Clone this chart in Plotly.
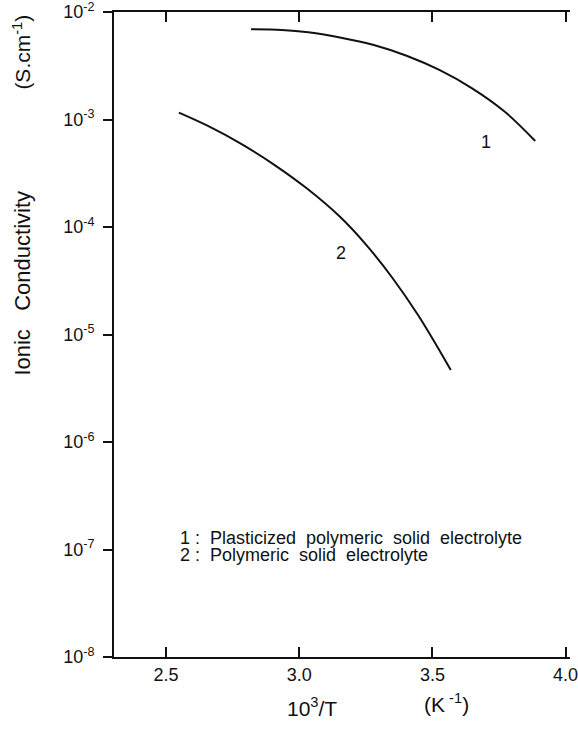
import plotly.graph_objects as go

# ---- data ----
x_curve1 = [2.819, 2.935, 3.034, 3.157, 3.280, 3.403, 3.526, 3.649, 3.772, 3.886]
y_curve1 = [6.90e-3, 6.80e-3, 6.47e-3, 5.77e-3, 4.93e-3, 3.92e-3, 2.89e-3, 1.95e-3, 1.18e-3, 6.31e-4]

x_curve2 = [2.548, 2.659, 2.782, 2.905, 3.028, 3.151, 3.249, 3.348, 3.446, 3.532, 3.569]
y_curve2 = [1.157e-3, 8.66e-4, 5.93e-4, 3.81e-4, 2.29e-4, 1.257e-4, 6.93e-5, 3.41e-5, 1.518e-5, 6.74e-6, 4.67e-6]

x_ticks = [2.5, 3.0, 3.5, 4.0]
x_ticktext = ["2.5", "3.0", "3.5", "4.0"]
y_exponents = [-2, -3, -4, -5, -6, -7, -8]

curve_labels = ["1", "2"]
legend_lines = ["1 :  Plasticized  polymeric  solid  electrolyte",
                "2 :  Polymeric  solid  electrolyte"]

FONT = "Liberation Sans, Arial, sans-serif"
INK = "#111111"

# layout geometry (pixels)
W, H = 578, 729
L, R, T, B = 114, 0, 12, 72
PW, PH = W - L - R, H - T - B


def px(xp):
    return (xp - L) / PW


def py(yp):
    return (H - B - yp) / PH


fig = go.Figure()
for xs, ys in [(x_curve1, y_curve1), (x_curve2, y_curve2)]:
    fig.add_trace(go.Scatter(x=xs, y=ys, mode="lines",
                             line=dict(color=INK, width=2, shape="spline", smoothing=1.0),
                             showlegend=False, hoverinfo="skip"))


def ann(x, y, text, size, ref="paper", angle=0, xanchor="center"):
    return dict(x=x, y=y, xref=ref if ref == "paper" else "x", yref=ref if ref == "paper" else "y",
                text=text, textangle=angle, showarrow=False,
                xanchor=xanchor, yanchor="middle",
                font=dict(size=size, color=INK, family=FONT))


annotations = []
# curve labels
annotations.append(ann(3.700, -3.206, curve_labels[0], 18, ref="data"))
annotations.append(ann(3.157, -4.239, curve_labels[1], 18, ref="data"))
# legend text
for txt, yp in zip(legend_lines, [538, 555]):
    annotations.append(ann(px(179), py(yp), txt, 18, xanchor="left"))
# axis titles
annotations.append(ann(px(315), py(707), "10<sup>3</sup>/T", 21))
annotations.append(ann(px(452), py(703), "(K<sup> -1</sup>)", 21))
annotations.append(ann(px(20), py(283), "Ionic   Conductivity", 22, angle=-90))
annotations.append(ann(px(20), py(52), "(S.cm<sup>-1</sup>)", 21, angle=-90))

x0 = 2.5 + (L - 167) / 271.0
x1 = x0 + PW / 271.0

fig.update_layout(
    width=W, height=H,
    margin=dict(l=L, r=R, t=T, b=B, pad=0),
    paper_bgcolor="white", plot_bgcolor="white",
    font=dict(family=FONT, color=INK),
    annotations=annotations,
    xaxis=dict(range=[x0, x1], tickvals=x_ticks, ticktext=x_ticktext,
               ticks="inside", ticklen=10, tickwidth=2, tickcolor=INK,
               showline=True, linewidth=2, linecolor=INK, mirror="ticks",
               showgrid=False, zeroline=False, ticklabeloverflow="allow",
               tickfont=dict(size=18, color=INK, family=FONT)),
    yaxis=dict(type="log", range=[-8, -2],
               tickvals=[10.0 ** e for e in y_exponents],
               ticktext=["10<sup>%d</sup>" % e for e in y_exponents],
               ticks="outside", ticklen=9, tickwidth=2, tickcolor=INK,
               showline=True, linewidth=2, linecolor=INK, mirror=False,
               showgrid=False, zeroline=False, ticklabelstandoff=5,
               ticklabeloverflow="allow",
               tickfont=dict(size=18, color=INK, family=FONT)),
)

fig.write_html("out.html")
